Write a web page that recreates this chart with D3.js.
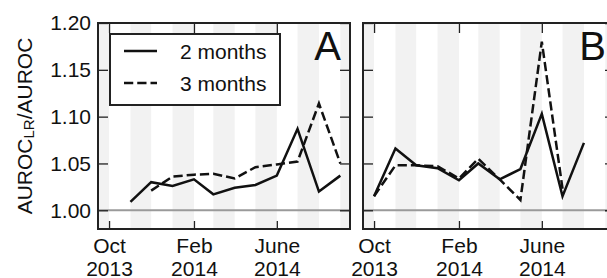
<!DOCTYPE html>
<html>
<head>
<meta charset="utf-8">
<script src="https://cdn.jsdelivr.net/npm/d3@7"></script>
<style>
body { margin: 0; background: #fff; }
svg { display: block; font-family: "Liberation Sans", Arial, Helvetica, sans-serif; }
</style>
</head>
<body>
<div id="chart"></div>
<script>
// months of the evaluation (first of each month)
var months = ["2013-10-01","2013-11-01","2013-12-01","2014-01-01","2014-02-01","2014-03-01",
              "2014-04-01","2014-05-01","2014-06-01","2014-07-01","2014-08-01","2014-09-01"];

// AUROC_LR / AUROC, panel A
var a2months = [null, 1.009, 1.030, 1.026, 1.033, 1.017, 1.024, 1.027, 1.037, 1.087, 1.020, 1.037];
var a3months = [null, null, 1.021, 1.036, 1.038, 1.039, 1.034, 1.046, 1.049, 1.052, 1.114, 1.050];
// panel B
var b2months = [1.015, 1.066, 1.048, 1.045, 1.032, 1.050, 1.033, 1.044, 1.103, 1.015, 1.072, null];
var b3months = [1.015, 1.048, 1.048, 1.047, 1.034, 1.055, 1.033, 1.011, 1.180, 1.023, null, null];

var seriesNames = ["2 months", "3 months"];
var yTicks = [1.00, 1.05, 1.10, 1.15, 1.20];
var xTicks = ["2013-10-01", "2014-02-01", "2014-06-01"];
var xTickLabels = [["Oct", "2013"], ["Feb", "2014"], ["June", "2014"]];
// shaded months (every other month)
var bandMonths = ["2013-09-01","2013-11-01","2014-01-01","2014-03-01","2014-05-01","2014-07-01","2014-09-01"];

var parse = d3.timeParse("%Y-%m-%d");
var W = 607, H = 278;
var pw = 252, ph = 206, marginTop = 23;

var svg = d3.select("#chart").append("svg")
    .attr("width", W).attr("height", H);

var x = d3.scaleTime()
    .domain([new Date(2013, 8, 15), new Date(2014, 8, 15)])
    .range([0, pw]);
var y = d3.scaleLinear().domain([0.98, 1.20]).range([ph, 0]);

var dashes = [null, "9.25,4"];

function panel(left, s2, s3, letter, id, showLabels, showLegend) {
  var g = svg.append("g").attr("transform", "translate(" + left + "," + marginTop + ")");

  g.append("clipPath").attr("id", "clip" + id)
    .append("rect").attr("width", pw).attr("height", ph);

  var inner = g.append("g").attr("clip-path", "url(#clip" + id + ")");

  // month bands
  inner.selectAll("rect.band")
    .data(bandMonths.map(parse))
    .enter().append("rect")
    .attr("class", "band")
    .attr("x", function(d) { return x(d); })
    .attr("width", function(d) { return x(d3.timeMonth.offset(d, 1)) - x(d); })
    .attr("y", 0).attr("height", ph)
    .attr("fill", "#f2f2f2");

  // reference line at 1
  inner.append("line")
    .attr("x1", 0).attr("x2", pw)
    .attr("y1", y(1)).attr("y2", y(1))
    .attr("stroke", "#9a9a9a").attr("stroke-width", 2);

  var line = d3.line()
    .defined(function(d) { return d != null; })
    .x(function(d, i) { return x(parse(months[i])); })
    .y(function(d) { return y(d); });

  [s2, s3].forEach(function(s, k) {
    inner.append("path")
      .datum(s)
      .attr("d", line)
      .attr("fill", "none")
      .attr("stroke", "#111")
      .attr("stroke-width", 2.5)
      .attr("stroke-dasharray", dashes[k]);
  });

  // axes, ticks pointing in
  var tv = xTicks.map(parse);
  g.append("g").call(d3.axisLeft(y).tickValues(yTicks).tickSize(-10).tickPadding(7)
      .tickFormat(showLabels ? d3.format(".2f") : ""));
  g.append("g").attr("transform", "translate(" + pw + ",0)")
    .call(d3.axisRight(y).tickValues(yTicks).tickSize(-10).tickFormat(""));
  g.append("g").call(d3.axisTop(x).tickValues(tv).tickSize(-10).tickFormat(""));
  var bottom = g.append("g").attr("transform", "translate(0," + ph + ")")
    .call(d3.axisBottom(x).tickValues(tv).tickSize(-8).tickFormat(""));

  bottom.selectAll(".tick").each(function(d, i) {
    var t = d3.select(this).select("text").attr("y", 0).attr("dy", null);
    t.append("tspan").attr("x", 0).attr("y", 24).text(xTickLabels[i][0]);
    t.append("tspan").attr("x", 0).attr("y", 46.5).text(xTickLabels[i][1]);
  });

  g.selectAll(".domain").remove();
  g.selectAll(".tick line").attr("stroke", "#222").attr("stroke-width", 1.3);
  g.selectAll(".tick text").attr("fill", "#111").style("font-size", "21px")
    .style("font-family", "'Liberation Sans', Arial, Helvetica, sans-serif");

  // frame
  g.append("rect")
    .attr("width", pw).attr("height", ph)
    .attr("fill", "none").attr("stroke", "#222").attr("stroke-width", 2);

  // panel letter
  g.append("text")
    .attr("x", pw - 9).attr("y", 37)
    .attr("text-anchor", "end")
    .style("font-size", "40px")
    .attr("fill", "#111")
    .text(letter);

  if (showLegend) {
    var lg = g.append("g").attr("transform", "translate(12,11)");
    lg.append("rect")
      .attr("width", 170).attr("height", 71)
      .attr("fill", "#fff").attr("stroke", "#222").attr("stroke-width", 2);
    seriesNames.forEach(function(name, k) {
      var yy = 17 + k * 32;
      lg.append("line")
        .attr("x1", 14).attr("x2", 47).attr("y1", yy).attr("y2", yy)
        .attr("stroke", "#111").attr("stroke-width", 2.5)
        .attr("stroke-dasharray", dashes[k]);
      lg.append("text")
        .attr("x", 70).attr("y", yy + 8)
        .style("font-size", "21px").attr("fill", "#111")
        .text(name);
    });
  }
}

panel(98, a2months, a3months, "A", "a", true, true);
panel(363, b2months, b3months, "B", "b", false, false);

// y axis label
var yl = svg.append("text")
    .attr("transform", "translate(32,126) rotate(-90)")
    .attr("text-anchor", "middle")
    .style("font-size", "21px")
    .attr("fill", "#111");
yl.append("tspan").text("AUROC");
yl.append("tspan").attr("baseline-shift", "-2px").style("font-size", "15px").text("LR");
yl.append("tspan").attr("baseline-shift", "0").text("/AUROC");
</script>
</body>
</html>
